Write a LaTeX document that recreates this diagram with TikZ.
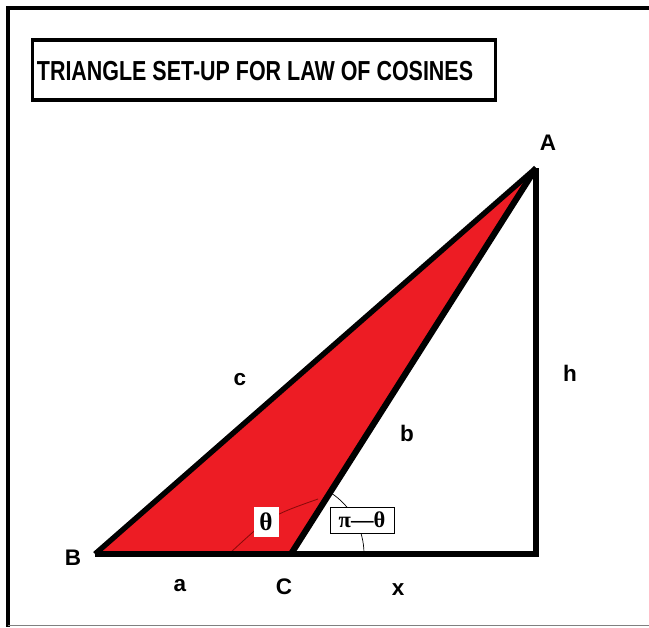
\documentclass[tikz,border=0pt]{standalone}
\usepackage{fontspec}
\setmainfont{Liberation Sans}
\newfontfamily\grkfont{Liberation Serif}
\definecolor{trianglered}{HTML}{ED1C24}
\definecolor{arcred}{HTML}{8A0A0A}

\begin{document}
\begin{tikzpicture}[
  x=0.025cm,
  y=-0.025cm,
  line join=miter,
  frame/.style={draw=black,line width=2.2pt},
  titlebox/.style={draw=black,line width=2.2pt,minimum width=11.55cm,minimum height=1.5cm,inner sep=0pt},
  edge/.style={draw=black,line width=4.4pt},
  slant/.style={draw=black,line width=3.8pt},
  anglearc/.style={draw=black,line width=0.5pt},
  vertex/.style={font=\fontsize{16}{18}\selectfont\bfseries,inner sep=0pt},
  side/.style={font=\fontsize{16}{18}\selectfont\bfseries,inner sep=0pt},
  anglelabel/.style={font=\grkfont\bfseries,inner sep=1.5pt}
]
  \useasboundingbox (0,0) rectangle (649,627);

  % Picture frame (cut off on the right).
  \draw[frame] (649,8) -- (8,8) -- (8,627);
  \draw[gray,line width=0.6pt] (8,625) -- (649,625);

  % Title.
  \node[titlebox] (title) at (264,70) {};
  \node (titletext) at (255,71)
    {\resizebox{10.9cm}{0.48cm}{\bfseries TRIANGLE SET-UP FOR LAW OF COSINES}};

  % Triangle corners.
  \coordinate (B) at (95,554);
  \coordinate (C) at (291,554);
  \coordinate (A) at (536,168);
  \coordinate (D) at (536,554);

  % Obtuse triangle ABC.
  \fill[trianglered] (B) -- (C) -- (A) -- cycle;

  % Angle marks at C.
  \draw[draw=arcred,line width=0.6pt] (230,553) .. controls (270,516) .. (318,499);
  \draw[anglearc] (C) ++(0:73) arc[start angle=0,end angle=-57,radius=73];

  % Sides.
  \draw[slant] (B) -- (A);
  \draw[edge] (C) -- (A);
  \draw[edge] (B) -- (D) -- (A);

  % Vertex names.
  \node[vertex] (Alab) at (548,143) {A};
  \node[vertex] (Blab) at (73,558) {B};
  \node[vertex] (Clab) at (284,587) {C};

  % Side names.
  \node[side] (alab) at (180,586) {a};
  \node[side] (xlab) at (398,590) {x};
  \node[side] (clab) at (240,380) {c};
  \node[side] (blab) at (407,433) {b};
  \node[side] (hlab) at (570,373) {h};

  % Angle names.
  \node[anglelabel,fill=white,font=\grkfont\bfseries\fontsize{18}{20}\selectfont,
        minimum width=0.625cm,minimum height=0.75cm] (theta) at (266,522) {θ};
  \node[anglelabel,fill=white,draw=black,line width=0.6pt,
        font=\grkfont\bfseries\fontsize{16}{18}\selectfont,
        minimum width=1.6cm,minimum height=0.65cm] (pitheta) at (362,520) {π—θ};
\end{tikzpicture}
\end{document}
